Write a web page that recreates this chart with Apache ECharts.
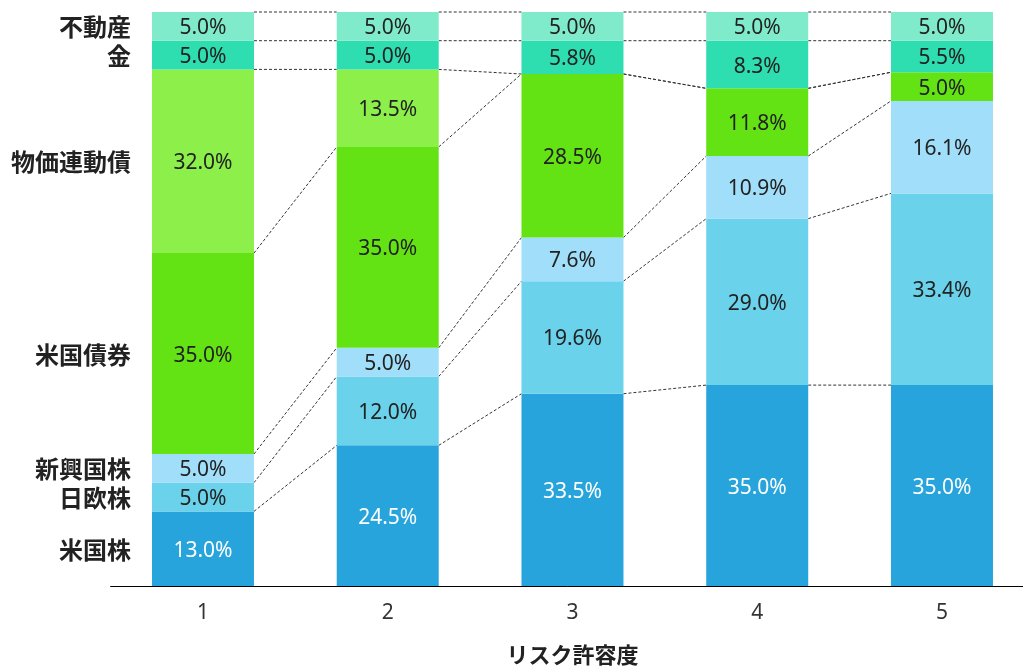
<!DOCTYPE html>
<html><head><meta charset="utf-8">
<script src="https://cdn.jsdelivr.net/npm/echarts@6/dist/echarts.min.js"></script>
<style>html,body{margin:0;padding:0;background:#fff}#c{width:1023px;height:671px}</style>
</head><body><div id="c"></div>
<script>
const categories = ['1','2','3','4','5'];
const seriesNames = ['米国株','日欧株','新興国株','米国債券','物価連動債','金','不動産'];
const usStock   = [13.0, 24.5, 33.5, 35.0, 35.0];
const jpEuStock = [5.0, 12.0, 19.6, 29.0, 33.4];
const emStock   = [5.0, 5.0, 7.6, 10.9, 16.1];
const usBond    = [35.0, 35.0, 28.5, 11.8, 5.0];
const tips      = [32.0, 13.5, 0, 0, 0];
const gold      = [5.0, 5.0, 5.8, 8.3, 5.5];
const reit      = [5.0, 5.0, 5.0, 5.0, 5.0];
const xAxisName = 'リスク許容度';

const values = [usStock, jpEuStock, emStock, usBond, tips, gold, reit];
const colors = ['#27A4DC','#6AD2EA','#A1DEFA','#64E314','#8DEF4A','#2EDDB0','#80EBCB'];
const BAR_W = 102;
const FONT = "'Noto Sans','Noto Sans CJK JP',sans-serif";

const cum = [];
values.forEach((arr, s) => {
  cum.push(arr.map((v, i) => (s ? cum[s-1][i] : 0) + v));
});
const connData = [];
cum.forEach(c => {
  for (let i = 0; i < categories.length - 1; i++) connData.push([i, c[i], c[i+1]]);
});
const nameData = seriesNames.map((n, s) => [0, cum[s][0] - values[s][0] / 2, n]);

const series = values.map((arr, s) => ({
  type: 'bar', name: seriesNames[s], stack: 'all', barWidth: BAR_W,
  data: arr,
  itemStyle: { color: colors[s] },
  label: {
    show: true, position: 'inside', offset: [0, 2], fontSize: 21, fontFamily: FONT,
    color: s === 0 ? '#ffffff' : '#222222',
    formatter: p => p.value > 0 ? p.value.toFixed(1) + '%' : ''
  },
  emphasis: { disabled: true }
}));

series.push({
  type: 'custom', data: connData, encode: { x: 0, y: [1, 2] }, z: 1, silent: true,
  renderItem: (params, api) => {
    const i = api.value(0);
    const p1 = api.coord([i, api.value(1)]);
    const p2 = api.coord([i + 1, api.value(2)]);
    return {
      type: 'line',
      shape: { x1: p1[0] + BAR_W/2, y1: p1[1], x2: p2[0] - BAR_W/2, y2: p2[1] },
      style: { stroke: '#333', lineWidth: 1, lineDash: [3, 2] }
    };
  }
});
series.push({
  type: 'custom', data: nameData, encode: { x: 0, y: 1 }, silent: true,
  renderItem: (params, api) => {
    const p = api.coord([api.value(0), api.value(1)]);
    return {
      type: 'text',
      style: {
        x: p[0] - BAR_W/2 - 21, y: p[1] + 1, text: nameData[params.dataIndex][2],
        align: 'right', verticalAlign: 'middle',
        font: "bold 24px 'Noto Sans CJK JP',sans-serif", fill: '#222'
      }
    };
  }
});

const chart = echarts.init(document.getElementById('c'));
chart.setOption({
  animation: false,
  grid: { left: 110.6, width: 923.75, top: 12, bottom: 85, containLabel: false, outerBoundsMode: 'none' },
  xAxis: {
    type: 'category', data: categories,
    axisLine: { lineStyle: { color: '#000', width: 1 } },
    axisTick: { show: false },
    axisLabel: { fontSize: 21, color: '#333', margin: 17, fontFamily: FONT },
    name: xAxisName, nameLocation: 'middle', nameGap: 58,
    nameTextStyle: { fontSize: 22, fontWeight: 'bold', color: '#222', fontFamily: "'Noto Sans CJK JP',sans-serif" }
  },
  yAxis: { type: 'value', min: 0, max: 100, show: false, splitLine: { show: false } },
  series
});
</script></body></html>
